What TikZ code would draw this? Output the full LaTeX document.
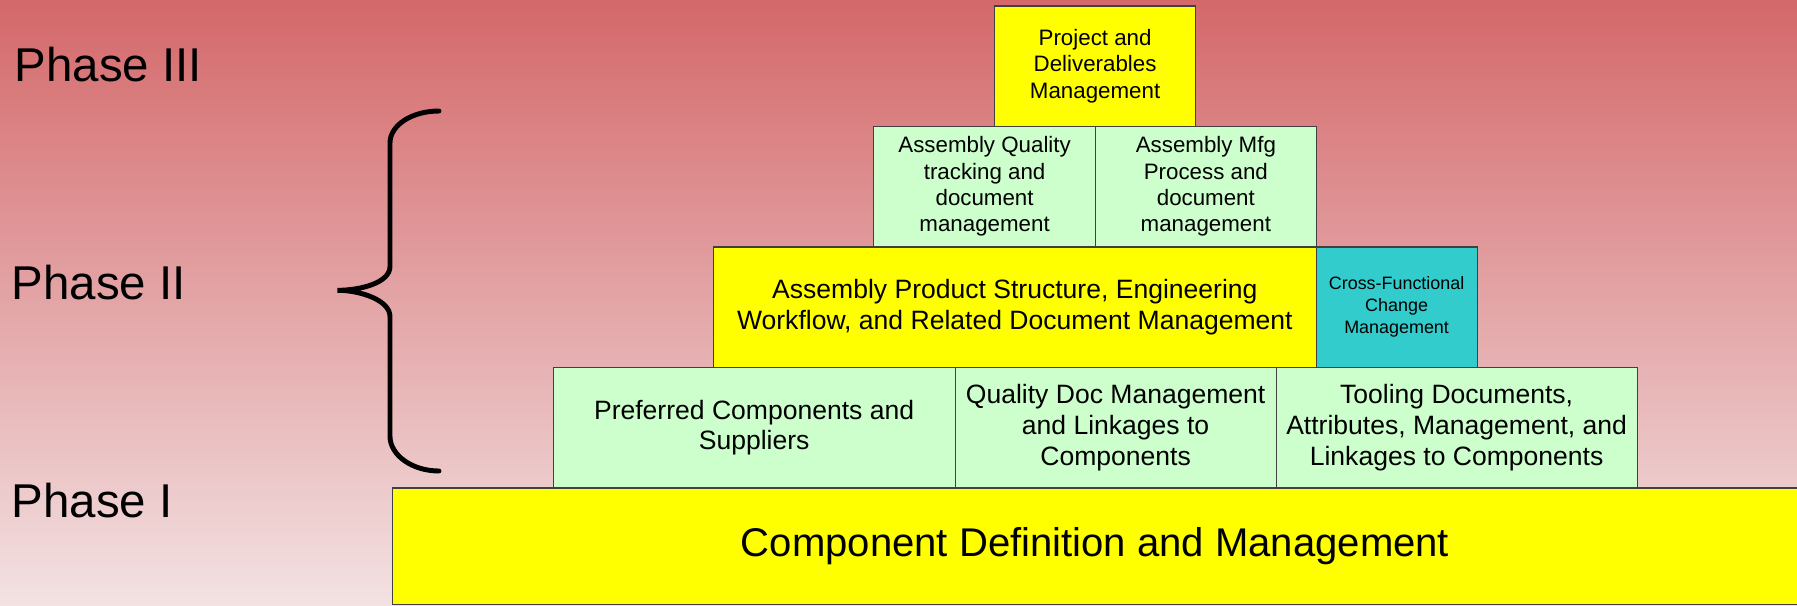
\documentclass[tikz,border=0pt]{standalone}
\usepackage{fontspec}
\setmainfont{Liberation Sans}

\definecolor{bgtop}{RGB}{212,104,106}
\definecolor{bgbot}{RGB}{243,226,227}
\definecolor{boxgreen}{RGB}{204,255,204}
\definecolor{boxyellow}{RGB}{255,255,0}
\definecolor{boxcyan}{RGB}{51,204,204}

\tikzset{
  block/.style={draw=black!75, line width=0.35pt, anchor=south west,
    align=center, inner sep=0pt, text=black},
  greenblock/.style={block, fill=boxgreen},
  yellowblock/.style={block, fill=boxyellow},
  cyanblock/.style={block, fill=boxcyan},
  phaselabel/.style={anchor=base west, inner sep=0pt,
    font=\fontsize{13.5}{16}\selectfont},
  smalltext/.style={font=\fontsize{6.35}{7.5}\selectfont},
  midtext/.style={font=\fontsize{7.55}{8.8}\selectfont},
  tinytext/.style={font=\fontsize{5.1}{6.2}\selectfont},
  bigtext/.style={font=\fontsize{11.4}{14}\selectfont},
}

\begin{document}
\begin{tikzpicture}
% background, 1 px = 0.01 cm
\useasboundingbox (0,0) rectangle (17.97,6.05);
\shade[top color=bgtop, bottom color=bgbot] (0,0) rectangle (17.97,6.05);

% phases
\node[phaselabel] (ph3) at (0.14,5.231) {Phase III};
\node[phaselabel] (ph2) at (0.11,3.058) {Phase II};
\node[phaselabel] (ph1) at (0.11,0.876) {Phase I};

% brace
\draw[line width=1.4pt, line cap=round]
  (4.39,4.94) .. controls (4.12,4.94) and (3.90,4.80) .. (3.90,4.62)
  -- (3.90,3.386) .. controls (3.90,3.22) and (3.60,3.147) .. (3.375,3.147)
  .. controls (3.60,3.147) and (3.90,3.05) .. (3.90,2.884)
  -- (3.90,1.687) .. controls (3.90,1.50) and (4.12,1.34) .. (4.39,1.34);

% row 1
\node[yellowblock, bigtext, minimum width=14.05cm, minimum height=1.165cm]
  (comp) at (3.92,0) {Component Definition and Management};

% row 2
\node[greenblock, midtext, minimum width=4.02cm, minimum height=1.205cm]
  (pref) at (5.525,1.165) {Preferred Components and\\Suppliers};
\node[greenblock, midtext, minimum width=3.21cm, minimum height=1.205cm]
  (qdoc) at (9.545,1.165) {Quality Doc Management\\and Linkages to\\Components};
\node[greenblock, midtext, minimum width=3.61cm, minimum height=1.205cm]
  (tool) at (12.755,1.165) {Tooling Documents,\\Attributes, Management, and\\Linkages to Components};

% row 3
\node[yellowblock, midtext, minimum width=6.025cm, minimum height=1.205cm]
  (aps) at (7.13,2.37) {Assembly Product Structure, Engineering\\Workflow, and Related Document Management};
\node[cyanblock, tinytext, minimum width=1.61cm, minimum height=1.205cm]
  (xfunc) at (13.155,2.37) {Cross-Functional\\Change\\Management};

% row 4
\node[greenblock, smalltext, minimum width=2.22cm, minimum height=1.205cm]
  (aqual) at (8.73,3.575) {Assembly Quality\\tracking and\\document\\management};
\node[greenblock, smalltext, minimum width=2.205cm, minimum height=1.205cm]
  (amfg) at (10.95,3.575) {Assembly Mfg\\Process and\\document\\management};

% row 5
\node[yellowblock, smalltext, minimum width=2.01cm, minimum height=1.205cm]
  (proj) at (9.94,4.78) {Project and\\Deliverables\\Management};

\end{tikzpicture}
\end{document}
